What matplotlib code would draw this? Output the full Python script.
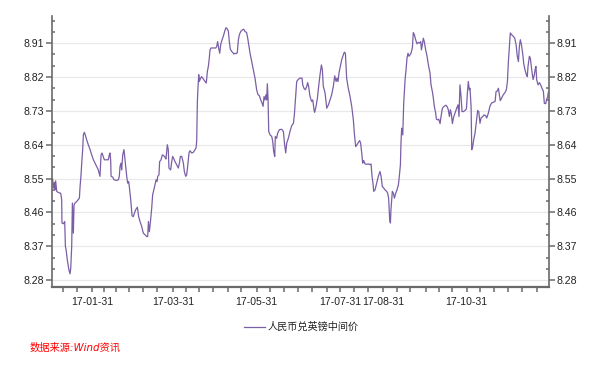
import matplotlib
matplotlib.use("Agg")
import matplotlib.pyplot as plt
import matplotlib.dates as mdates
from matplotlib.ticker import FixedLocator, FormatStrFormatter
import pandas as pd

# Day of year 2017 (1 = Jan 1) and RMB/GBP central parity
day_of_year = [
    2.3, 2.8, 3.6, 4.0, 4.5, 5.3, 6.5, 8.2, 8.9, 9.1, 10.1, 10.6, 11.1, 11.6, 12.1, 13.0, 14.2, 15.0, 15.5, 16.2,
    16.7, 17.4, 17.9, 18.6, 19.8, 21.8, 22.3, 23.0, 23.5, 24.2, 24.7, 25.4, 26.1, 27.1, 28.3, 29.6, 30.8, 32.0, 33.2, 34.4,
    35.6, 36.8, 37.6, 38.3, 39.3, 40.0, 41.7, 42.9, 43.6, 44.1, 44.6, 44.9, 46.1, 47.0, 49.0, 50.2, 50.9, 51.4, 52.1, 52.6,
    53.4, 54.3, 54.8, 55.6, 56.3, 57.0, 57.7, 58.2, 59.2, 60.2, 61.1, 61.9, 62.8, 64.1, 65.0, 66.0, 67.2, 68.4, 69.6, 70.9,
    71.6, 72.1, 72.8, 73.5, 74.5, 75.2, 76.4, 77.7, 78.4, 78.9, 79.8, 80.3, 81.3, 82.3, 83.2, 84.2, 84.9, 85.9, 86.6, 87.1,
    88.3, 89.1, 89.8, 90.5, 91.5, 92.7, 93.9, 94.7, 95.4, 96.4, 97.6, 98.3, 99.3, 100.0, 100.7, 101.7, 102.4, 103.7, 104.9, 106.1,
    106.8, 107.3, 107.8, 108.3, 108.8, 109.2, 110.2, 110.9, 112.2, 113.4, 114.3, 115.1, 115.8, 116.5, 117.0, 117.7, 119.5, 121.2, 121.9, 122.6,
    123.3, 124.1, 124.8, 125.8, 126.7, 128.0, 128.7, 129.7, 130.4, 131.1, 131.8, 132.8, 133.5, 134.5, 135.2, 136.2, 136.9, 137.7, 138.4, 139.4, 140.6, 141.6,
    142.5, 143.7, 144.5, 145.4, 146.2, 147.4, 148.6, 149.8, 151.0, 152.0, 153.0, 154.0, 154.9, 155.7, 156.4, 157.1, 157.8, 158.3, 158.8, 159.3,
    159.8, 160.8, 162.0, 162.7, 163.4, 164.2, 164.6, 165.6, 166.3, 167.6, 169.3, 170.5, 171.4, 172.2, 172.9, 174.1, 175.3, 176.5, 177.8, 178.5,
    179.2, 180.2, 181.4, 182.6, 184.1, 184.6, 185.5, 186.5, 187.5, 188.2, 188.9, 189.9, 191.1, 191.9, 192.8, 193.3, 194.3, 195.3, 196.2, 197.2,
    198.2, 198.9, 199.6, 200.9, 201.6, 202.1, 203.3, 204.5, 205.7, 206.9, 207.9, 208.9, 209.6, 210.3, 211.0, 212.0, 213.0, 214.2, 214.9, 215.7,
    216.6, 217.8, 219.1, 220.3, 221.5, 222.2, 223.2, 224.2, 225.1, 226.1, 226.8, 227.6, 228.3, 229.0, 230.0, 231.2, 232.4, 233.6, 234.4, 235.1,
    235.8, 236.3, 237.3, 238.5, 239.7, 240.9, 241.7, 242.6, 243.6, 244.6, 245.8, 246.5, 247.2, 248.0, 248.5, 248.9, 249.9, 250.7, 251.4, 252.4,
    253.3, 254.3, 255.0, 255.8, 256.2, 256.7, 257.5, 258.2, 259.2, 259.9, 260.6, 261.3, 262.1, 262.8, 263.5, 264.5, 265.2, 266.0, 266.9, 267.9,
    268.9, 269.8, 270.6, 271.1, 271.8, 272.5, 273.2, 274.2, 275.2, 276.2, 277.4, 278.1, 279.1, 279.8, 280.5, 281.5, 282.0, 283.0, 283.7, 284.7,
    285.4, 286.4, 287.6, 289.0, 290.0, 290.7, 291.5, 292.2, 292.9, 293.7, 294.4, 295.6, 296.8, 297.8, 298.5, 299.2, 300.0, 300.7, 301.7, 302.9,
    303.9, 304.6, 305.3, 306.0, 306.5, 307.3, 307.8, 308.5, 309.2, 310.2, 311.2, 312.1, 312.9, 313.8, 314.6, 315.8, 316.7, 318.0, 318.7, 319.9,
    321.1, 322.3, 323.5, 324.8, 325.5, 326.5, 327.2, 327.9, 328.6, 329.6, 330.8, 332.1, 333.0, 333.8, 334.5, 335.2, 335.9, 336.9, 338.1, 339.1,
    340.1, 341.0, 341.8, 342.5, 343.2, 344.0, 344.9, 345.7, 346.6, 347.6, 348.3, 348.8, 349.8, 350.5,
    351.5, 352.5, 353.4, 354.2, 354.6, 355.1, 356.1, 357.1, 358.0, 359.0, 360.0, 360.7, 361.7, 362.4, 363.1, 363.6,
]
rate = [
    8.549, 8.525, 8.540, 8.520, 8.544, 8.516, 8.513, 8.511, 8.494, 8.432, 8.430, 8.433, 8.436, 8.370, 8.361, 8.334, 8.307, 8.297, 8.312, 8.370,
    8.485, 8.405, 8.480, 8.485, 8.489, 8.498, 8.529, 8.560, 8.591, 8.627, 8.666, 8.673, 8.666, 8.653, 8.640, 8.627, 8.613, 8.600, 8.591, 8.582,
    8.573, 8.556, 8.613, 8.618, 8.607, 8.600, 8.600, 8.600, 8.613, 8.618, 8.600, 8.556, 8.554, 8.547, 8.545, 8.547, 8.556, 8.582, 8.591, 8.573,
    8.613, 8.627, 8.609, 8.582, 8.556, 8.538, 8.542, 8.529, 8.494, 8.451, 8.449, 8.458, 8.467, 8.474, 8.449, 8.436, 8.423, 8.405, 8.401, 8.396,
    8.396, 8.436, 8.409, 8.432, 8.471, 8.507, 8.525, 8.547, 8.542, 8.556, 8.560, 8.595, 8.600, 8.613, 8.611, 8.607, 8.602, 8.640, 8.627, 8.578,
    8.573, 8.595, 8.609, 8.604, 8.595, 8.587, 8.578, 8.591, 8.609, 8.609, 8.591, 8.569, 8.556, 8.560, 8.582, 8.618, 8.624, 8.618, 8.620, 8.627,
    8.631, 8.649, 8.755, 8.795, 8.826, 8.808, 8.817, 8.821, 8.814, 8.808, 8.804, 8.835, 8.848, 8.870, 8.892, 8.897, 8.897, 8.897, 8.901, 8.914,
    8.897, 8.883, 8.906, 8.919, 8.928, 8.945, 8.951, 8.947, 8.941, 8.914, 8.894, 8.888, 8.885, 8.881, 8.883, 8.882, 8.885, 8.919, 8.932, 8.941, 8.945, 8.947,
    8.941, 8.938, 8.923, 8.901, 8.883, 8.861, 8.839, 8.817, 8.786, 8.773, 8.770, 8.759, 8.751, 8.742, 8.768, 8.759, 8.773, 8.759, 8.802, 8.764,
    8.675, 8.666, 8.662, 8.649, 8.622, 8.609, 8.662, 8.657, 8.671, 8.680, 8.681, 8.675, 8.640, 8.618, 8.644, 8.657, 8.675, 8.690, 8.697, 8.720,
    8.755, 8.808, 8.814, 8.817, 8.817, 8.799, 8.790, 8.786, 8.795, 8.805, 8.795, 8.768, 8.755, 8.759, 8.733, 8.726, 8.742, 8.764, 8.795, 8.826,
    8.852, 8.839, 8.795, 8.777, 8.755, 8.737, 8.746, 8.759, 8.773, 8.795, 8.823, 8.808, 8.817, 8.808, 8.830, 8.848, 8.866, 8.879, 8.886, 8.883,
    8.817, 8.790, 8.768, 8.742, 8.706, 8.671, 8.635, 8.640, 8.646, 8.651, 8.644, 8.618, 8.591, 8.598, 8.589, 8.588, 8.589, 8.587, 8.589, 8.556,
    8.538, 8.516, 8.520, 8.538, 8.556, 8.569, 8.556, 8.529, 8.525, 8.520, 8.516, 8.511, 8.498, 8.440, 8.432, 8.467, 8.516, 8.511, 8.498, 8.511,
    8.520, 8.533, 8.556, 8.587, 8.644, 8.684, 8.666, 8.751, 8.813, 8.839, 8.870, 8.883, 8.875, 8.879, 8.883, 8.897, 8.938, 8.932, 8.919, 8.908,
    8.912, 8.910, 8.914, 8.892, 8.906, 8.923, 8.914, 8.892, 8.875, 8.852, 8.830, 8.799, 8.781, 8.764, 8.742, 8.724, 8.708, 8.706, 8.708, 8.696,
    8.715, 8.737, 8.742, 8.745, 8.740, 8.733, 8.715, 8.733, 8.722, 8.696, 8.711, 8.724, 8.737, 8.746, 8.715, 8.799, 8.768, 8.728, 8.728, 8.731,
    8.735, 8.777, 8.808, 8.786, 8.790, 8.743, 8.627, 8.635, 8.653, 8.671, 8.702, 8.731, 8.728, 8.697, 8.711, 8.715, 8.719, 8.717, 8.711, 8.724,
    8.743, 8.751, 8.753, 8.755, 8.781, 8.783, 8.790, 8.773, 8.757, 8.764, 8.773, 8.779, 8.786, 8.808, 8.861, 8.901, 8.937, 8.932, 8.928, 8.923,
    8.906, 8.875, 8.861, 8.901, 8.919, 8.906, 8.883, 8.855, 8.839, 8.826, 8.821, 8.848, 8.875, 8.870,
    8.839, 8.813, 8.826, 8.844, 8.848, 8.813, 8.799, 8.805, 8.799, 8.790, 8.782, 8.750, 8.749, 8.761, 8.766, 8.779,
]
assert len(day_of_year) == len(rate)

series_name = "人民币兑英镑中间价"
source_text = "数据来源:Wind资讯"
x_tick_labels = ["2017-01-31", "2017-03-31", "2017-05-31", "2017-07-31", "2017-08-31", "2017-10-31"]
y_ticks = [8.28, 8.37, 8.46, 8.55, 8.64, 8.73, 8.82, 8.91]

base = pd.Timestamp("2016-12-31")
dates = base + pd.to_timedelta(day_of_year, unit="D")

fig = plt.figure(figsize=(6.07, 3.67), dpi=100)
ax = fig.add_axes([52 / 607, 1 - 287 / 367, (549 - 52) / 607, (287 - 16) / 367])

ax.plot(dates, rate, color="#7a5fa6", linewidth=0.9, label=series_name)

ax.set_xlim(base + pd.Timedelta(days=1.84), base + pd.Timedelta(days=364.1))
ax.set_ylim(8.262, 8.982)

# y axis
ax.yaxis.set_major_locator(FixedLocator(y_ticks))
ax.yaxis.set_major_formatter(FormatStrFormatter("%.2f"))
minor_y = [8.28 + 0.03 * i for i in range(0, 24)]
ax.yaxis.set_minor_locator(FixedLocator([v for v in minor_y if all(abs(v - t) > 1e-6 for t in y_ticks)]))
ax.grid(axis="y", which="major", color="#e8e8e8", linewidth=0.9)
ax.set_axisbelow(True)

# x axis
major_dates = pd.to_datetime(x_tick_labels)
ax.xaxis.set_major_locator(FixedLocator(mdates.date2num(major_dates)))
ax.xaxis.set_major_formatter(mdates.DateFormatter("%y-%m-%d"))
minor_days = [9.9, 20.1, 39.8, 48.5, 58.0, 68.2, 78.4, 99.5, 109.0, 119.2, 130.1, 139.6,
              160.7, 171.0, 181.2, 191.4, 202.3, 222.0, 232.2, 253.3, 262.8, 274.5, 283.9,
              293.4, 313.8, 324.0, 334.2, 344.4, 355.4]
ax.xaxis.set_minor_locator(FixedLocator(mdates.date2num(base + pd.to_timedelta(minor_days, unit="D"))))

spine_col = "#6a6a6a"
for s in ["top"]:
    ax.spines[s].set_visible(False)
for s in ["left", "right"]:
    ax.spines[s].set_color(spine_col)
    ax.spines[s].set_linewidth(1.2)
ax.spines["bottom"].set_color(spine_col)
ax.spines["bottom"].set_linewidth(1.6)

tick_font = {"family": "Liberation Sans", "size": 7.6}
ax.tick_params(axis="y", which="major", direction="out", length=4, width=1.1, color=spine_col,
               left=True, right=True, labelleft=True, labelright=True, pad=1.5, labelcolor="#222222",
               labelsize=7.6)
ax.tick_params(axis="y", which="minor", direction="in", length=2.5, width=1.1, color=spine_col,
               left=True, right=True)
ax.tick_params(axis="x", which="both", direction="out", length=3.5, width=1.1, color=spine_col,
               pad=3.5, labelcolor="#222222", labelsize=7.6)
for lab in ax.get_xticklabels() + ax.get_yticklabels():
    lab.set_family("Liberation Sans")
for lab in ax.yaxis.get_ticklabels(which="major"):
    lab.set_family("Liberation Sans")
plt.setp(ax.yaxis.get_majorticklabels(), family="Liberation Sans")
for t in ax.yaxis.get_major_ticks():
    t.label2.set_fontfamily("Liberation Sans")

leg = fig.legend(loc="center", bbox_to_anchor=(0.497, 1 - 327 / 367), frameon=False,
                 borderpad=0, borderaxespad=0, handlelength=2.1, handletextpad=0.25,
                 prop={"family": ["Noto Sans CJK SC", "DejaVu Sans"], "size": 7.3})
for txt in leg.get_texts():
    txt.set_color("#222222")

fig.text(30 / 607, 1 - 347.5 / 367, source_text, color="#ff0000", fontsize=7.4,
         family=["DejaVu Sans", "Noto Sans CJK SC"], style="italic", ha="left", va="center")

fig.savefig("out.png", dpi=100)
